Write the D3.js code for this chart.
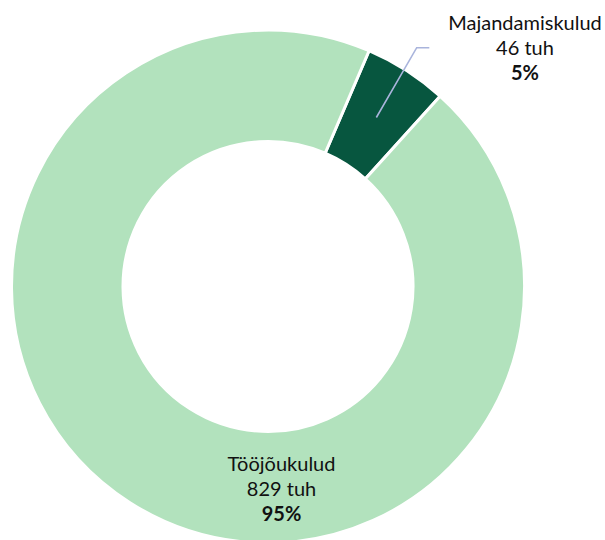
<!DOCTYPE html>
<html>
<head>
<meta charset="utf-8">
<script src="https://cdn.jsdelivr.net/npm/d3@7"></script>
<style>
  body { margin: 0; background: #fff; }
  text { font-family: Lato, "Open Sans", sans-serif; fill: #111; }
</style>
</head>
<body>
<div id="chart"></div>
<script>
'use strict';

var categories = ['Majandamiskulud', 'Tööjõukulud'];
var values = [46, 829];
var valueLabels = ['46 tuh', '829 tuh'];
var percentLabels = ['5%', '95%'];
var colors = ['#07563f', '#b2e2bd'];

var width = 605, height = 540;
var cx = 268, cy = 286.5;
var outerR = 256.5, innerR = 145;
var startDeg = 23.2;

var svg = d3.select('#chart')
    .append('svg')
    .attr('width', width)
    .attr('height', height);

var g = svg.append('g')
    .attr('transform', 'translate(' + cx + ',' + cy + ')');

var a0 = startDeg * Math.PI / 180;
var pie = d3.pie()
    .sort(null)
    .value(function (d) { return d; })
    .startAngle(a0)
    .endAngle(a0 + 2 * Math.PI);

var arc = d3.arc()
    .innerRadius(innerR)
    .outerRadius(outerR);

var arcs = pie(values);

g.selectAll('.slice')
    .data(arcs)
    .enter()
    .append('path')
    .attr('class', 'slice')
    .attr('d', arc)
    .style('fill', function (d, i) { return colors[i]; })
    .style('stroke', '#fff')
    .style('stroke-width', 3)
    .style('stroke-linejoin', 'miter');

// label anchors (relative to the chart centre)
var labelPos = [
    { x: 257, y: -257 },
    { x: 13.5, y: 184 }
];

// leader line for the small slice
var c = arc.centroid(arcs[0]);
var elbow = [148.7, -238.8];
var lineEnd = [161.3, -238.8];
g.append('polyline')
    .attr('points', [c, elbow, lineEnd].map(function (p) { return p.join(','); }).join(' '))
    .style('fill', 'none')
    .style('stroke', '#a9b4dc')
    .style('stroke-width', 1.6);

var labels = g.selectAll('.label')
    .data(arcs)
    .enter()
    .append('text')
    .attr('class', 'label')
    .attr('text-anchor', 'middle')
    .attr('transform', function (d, i) { return 'translate(' + labelPos[i].x + ',' + labelPos[i].y + ')'; })
    .style('font-size', '20px');

labels.append('tspan')
    .attr('x', 0).attr('dy', 0)
    .text(function (d, i) { return categories[i]; });
labels.append('tspan')
    .attr('x', 0).attr('dy', 25.3)
    .text(function (d, i) { return valueLabels[i]; });
labels.append('tspan')
    .attr('x', 0).attr('dy', 25.3)
    .style('font-weight', 'bold')
    .text(function (d, i) { return percentLabels[i]; });
</script>
</body>
</html>
